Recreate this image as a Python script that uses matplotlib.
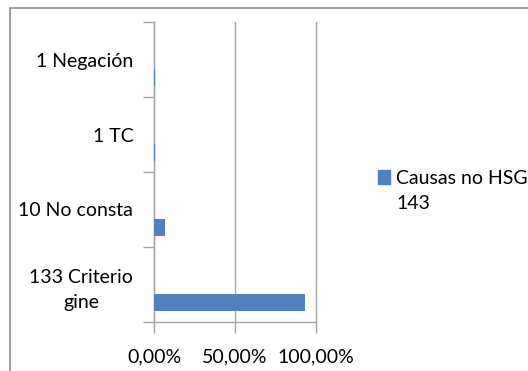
import matplotlib.pyplot as plt
from matplotlib.patches import Rectangle
from matplotlib.ticker import FuncFormatter

plt.rcParams['font.family'] = ['Lato', 'DejaVu Sans']

categories = ['133 Criterio\ngine', '10 No consta', '1 TC', '1 Negación']
counts = [133, 10, 1, 1]
total = 143
shares = [c / total for c in counts]
series_name = 'Causas no HSG\n143'

W, H = 528, 371
fig = plt.figure(figsize=(W / 100, H / 100), dpi=100)
ax = fig.add_axes([154 / W, 1 - 322 / H, (316 - 154) / W, (322 - 22) / H])

bar_color = '#4f81bd'
grid_color = '#a6a6a6'
fs = 14

ypos = list(range(len(categories)))
ax.barh([y - 0.24 for y in ypos], shares, height=0.23, color=bar_color, zorder=3)

ax.set_xlim(0, 1.0)
ax.set_ylim(-0.5, len(categories) - 0.5)
ax.set_xticks([0, 0.5, 1.0])
ax.xaxis.set_major_formatter(FuncFormatter(lambda v, p: f'{v * 100:.2f}%'.replace('.', ',')))
ax.set_yticks(ypos)
ax.set_yticklabels(categories, ha='right', multialignment='center', linespacing=1.55)
ax.set_yticks([y + 0.5 for y in ypos[:-1]] + [-0.5, len(categories) - 0.5], minor=True)

ax.xaxis.grid(True, color=grid_color, linewidth=1, zorder=0)
for gl in ax.get_xgridlines():
    gl.set_clip_on(False)
for s in ['top', 'right']:
    ax.spines[s].set_visible(False)
for s in ['left', 'bottom']:
    ax.spines[s].set_color(grid_color)
    ax.spines[s].set_linewidth(1)

ax.tick_params(axis='y', which='major', length=0, pad=15, labelsize=fs, labelcolor='#000000')
ax.tick_params(axis='y', which='minor', length=8, color=grid_color, width=1)
ax.tick_params(axis='x', length=8, color=grid_color, width=1, pad=11, labelsize=fs)

# legend drawn by hand next to the plot
fig.patches.append(Rectangle((378 / W, 1 - 184 / H), 12 / W, 14 / H,
                             transform=fig.transFigure, color=bar_color))
fig.text(396 / W, 1 - 170 / H, series_name, ha='left', va='top', fontsize=fs,
         linespacing=1.55)

# outer chart frame
fig.patches.append(Rectangle((10 / W, -0.1), 1.2, 1 - 8 / H + 0.1, transform=fig.transFigure,
                             fill=False, edgecolor='#8c8c8c', linewidth=1.2))

fig.savefig('out.png', dpi=100)
